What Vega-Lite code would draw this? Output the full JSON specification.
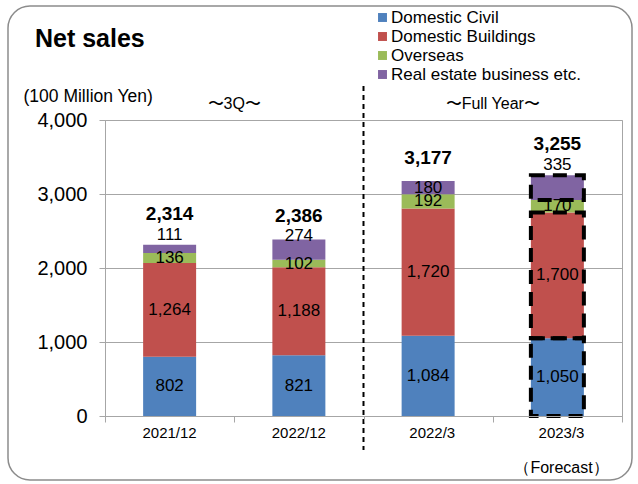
{
  "$schema": "https://vega.github.io/schema/vega-lite/v6.json",
  "width": 517,
  "height": 296,
  "autosize": {"type": "none"},
  "padding": {"left": 105, "top": 120, "right": 16, "bottom": 68},
  "background": "white",
  "datasets": {
    "seg": [
      {"period": "2021/12", "segment": "Domestic Civil", "k": 1, "value": 802},
      {"period": "2021/12", "segment": "Domestic Buildings", "k": 2, "value": 1264},
      {"period": "2021/12", "segment": "Overseas", "k": 3, "value": 136},
      {"period": "2021/12", "segment": "Real estate business etc.", "k": 4, "value": 111},
      {"period": "2022/12", "segment": "Domestic Civil", "k": 1, "value": 821},
      {"period": "2022/12", "segment": "Domestic Buildings", "k": 2, "value": 1188},
      {"period": "2022/12", "segment": "Overseas", "k": 3, "value": 102},
      {"period": "2022/12", "segment": "Real estate business etc.", "k": 4, "value": 274},
      {"period": "2022/3", "segment": "Domestic Civil", "k": 1, "value": 1084},
      {"period": "2022/3", "segment": "Domestic Buildings", "k": 2, "value": 1720},
      {"period": "2022/3", "segment": "Overseas", "k": 3, "value": 192},
      {"period": "2022/3", "segment": "Real estate business etc.", "k": 4, "value": 180},
      {"period": "2023/3", "segment": "Domestic Civil", "k": 1, "value": 1050},
      {"period": "2023/3", "segment": "Domestic Buildings", "k": 2, "value": 1700},
      {"period": "2023/3", "segment": "Overseas", "k": 3, "value": 170},
      {"period": "2023/3", "segment": "Real estate business etc.", "k": 4, "value": 335}
    ],
    "tot": [
      {"period": "2021/12", "total": 2314},
      {"period": "2022/12", "total": 2386},
      {"period": "2022/3", "total": 3177},
      {"period": "2023/3", "total": 3255}
    ],
    "notes": [
      {"p": "2021/12", "t": "〜3Q〜"},
      {"p": "2022/3", "t": "〜Full Year〜"}
    ]
  },
  "data": {"name": "seg"},
  "layer": [
    {
      "data": {"values": [{}]},
      "mark": {"type": "rect", "fillOpacity": 0, "stroke": "#8c8c8c", "strokeWidth": 1.5, "cornerRadius": 22},
      "encoding": {
        "x": {"datum": "2021/12", "type": "nominal", "bandPosition": -0.7505},
        "x2": {"datum": "2023/3", "bandPosition": 1.0774},
        "y": {"datum": 5540, "type": "quantitative"},
        "y2": {"datum": -865}
      }
    },
    {
      "mark": {"type": "bar", "width": {"band": 0.41}},
      "encoding": {
        "x": {
          "field": "period", "type": "nominal",
          "scale": {"domain": ["2021/12", "2022/12", "2022/3", "2023/3"], "paddingInner": 0, "paddingOuter": 0},
          "axis": {"title": "（Forecast）", "labelAngle": 0, "labelOffset": 26.6, "tickBand": "extent", "titleX": 456, "titleY": 51, "titleAlign": "center", "titleBaseline": "middle"}
        },
        "y": {
          "field": "value", "type": "quantitative", "stack": "zero",
          "scale": {"domain": [0, 4000], "nice": false},
          "axis": {"title": "(100 Million Yen)", "values": [0, 1000, 2000, 3000, 4000], "labelExpr": "format(datum.value, ',')", "titleAngle": 0, "titleX": -82, "titleY": -24, "titleAlign": "left", "titleBaseline": "middle"}
        },
        "color": {
          "field": "segment", "type": "nominal",
          "scale": {"domain": ["Domestic Civil", "Domestic Buildings", "Overseas", "Real estate business etc."], "range": ["#4F81BD", "#C0504D", "#9BBB59", "#8064A2"]},
          "legend": {"orient": "none", "legendX": 269, "legendY": -111, "title": null, "symbolType": "square", "symbolSize": 80, "symbolStrokeWidth": 0, "labelFontSize": 17, "labelLimit": 400, "labelColor": "black", "rowPadding": 1, "labelOffset": 0, "padding": 0}
        },
        "order": {"field": "k", "type": "quantitative"}
      }
    },
    {
      "mark": {"type": "bar", "width": {"band": 0.41}, "fillOpacity": 0, "stroke": "black", "strokeWidth": 4, "strokeDash": [14, 8]},
      "encoding": {
        "x": {"field": "period", "type": "nominal"},
        "y": {"field": "value", "type": "quantitative", "stack": "zero"},
        "detail": {"field": "segment"},
        "order": {"field": "k", "type": "quantitative"},
        "strokeOpacity": {"condition": {"test": "datum.period == '2023/3' && datum.segment != 'Overseas'", "value": 1}, "value": 0}
      }
    },
    {
      "mark": {"type": "text", "fontSize": 17, "baseline": "middle", "color": "black"},
      "encoding": {
        "x": {"field": "period", "type": "nominal"},
        "y": {"field": "value", "type": "quantitative", "stack": "zero", "bandPosition": 0.5},
        "detail": {"field": "segment"},
        "order": {"field": "k", "type": "quantitative"},
        "text": {"field": "value", "type": "quantitative", "format": ","},
        "opacity": {"condition": {"test": "datum.segment == 'Real estate business etc.' && datum.period != '2022/3'", "value": 0}, "value": 1}
      }
    },
    {
      "mark": {"type": "text", "fontSize": 17, "baseline": "middle", "color": "black", "dy": -10},
      "encoding": {
        "x": {"field": "period", "type": "nominal"},
        "y": {"field": "value", "type": "quantitative", "stack": "zero"},
        "detail": {"field": "segment"},
        "order": {"field": "k", "type": "quantitative"},
        "text": {"field": "value", "type": "quantitative", "format": ","},
        "opacity": {"condition": {"test": "datum.segment == 'Real estate business etc.' && (datum.period == '2021/12' || datum.period == '2023/3')", "value": 1}, "value": 0}
      }
    },
    {
      "mark": {"type": "text", "fontSize": 17, "baseline": "middle", "color": "black", "dy": -4},
      "encoding": {
        "x": {"field": "period", "type": "nominal"},
        "y": {"field": "value", "type": "quantitative", "stack": "zero"},
        "detail": {"field": "segment"},
        "order": {"field": "k", "type": "quantitative"},
        "text": {"field": "value", "type": "quantitative", "format": ","},
        "opacity": {"condition": {"test": "datum.segment == 'Real estate business etc.' && datum.period == '2022/12'", "value": 1}, "value": 0}
      }
    },
    {
      "data": {"name": "tot"},
      "transform": [{"filter": "datum.period == '2021/12' || datum.period == '2023/3'"}],
      "mark": {"type": "text", "fontSize": 19, "fontWeight": "bold", "baseline": "middle", "color": "black", "dy": -31},
      "encoding": {
        "x": {"field": "period", "type": "nominal"},
        "y": {"field": "total", "type": "quantitative"},
        "text": {"field": "total", "type": "quantitative", "format": ","}
      }
    },
    {
      "data": {"name": "tot"},
      "transform": [{"filter": "datum.period == '2022/12' || datum.period == '2022/3'"}],
      "mark": {"type": "text", "fontSize": 19, "fontWeight": "bold", "baseline": "middle", "color": "black", "dy": -23},
      "encoding": {
        "x": {"field": "period", "type": "nominal"},
        "y": {"field": "total", "type": "quantitative"},
        "text": {"field": "total", "type": "quantitative", "format": ","}
      }
    },
    {
      "data": {"values": [{}]},
      "mark": {"type": "rule", "strokeDash": [5, 4], "strokeWidth": 2, "color": "black"},
      "encoding": {
        "x": {"datum": "2022/12", "type": "nominal", "bandPosition": 1},
        "y": {"datum": 4460, "type": "quantitative"},
        "y2": {"datum": -460}
      }
    },
    {
      "data": {"name": "notes"},
      "mark": {"type": "text", "fontSize": 16, "baseline": "middle", "color": "black", "dy": -16},
      "encoding": {
        "x": {"field": "p", "type": "nominal", "bandPosition": 1},
        "y": {"datum": 4000, "type": "quantitative"},
        "text": {"field": "t"}
      }
    },
    {
      "data": {"values": [{}]},
      "mark": {"type": "text", "fontSize": 25, "fontWeight": "bold", "align": "left", "baseline": "alphabetic", "color": "black", "dy": -73, "text": "Net sales"},
      "encoding": {
        "x": {"datum": "2021/12", "type": "nominal", "bandPosition": -0.542},
        "y": {"datum": 4000, "type": "quantitative"}
      }
    }
  ],
  "config": {
    "font": "Liberation Sans",
    "view": {"stroke": "#a6a6a6", "strokeWidth": 1},
    "axis": {"domainColor": "#a6a6a6", "tickColor": "#a6a6a6", "gridColor": "#a6a6a6", "labelColor": "black", "titleColor": "black", "labelFont": "Liberation Sans", "titleFont": "Liberation Sans", "titleFontWeight": "normal"},
    "axisY": {"labelFontSize": 20, "tickSize": 6, "labelPadding": 12, "titleFontSize": 17.5, "grid": true},
    "axisX": {"labelFontSize": 15, "tickSize": 6, "labelPadding": 10, "titleFontSize": 16, "grid": false}
  }
}
